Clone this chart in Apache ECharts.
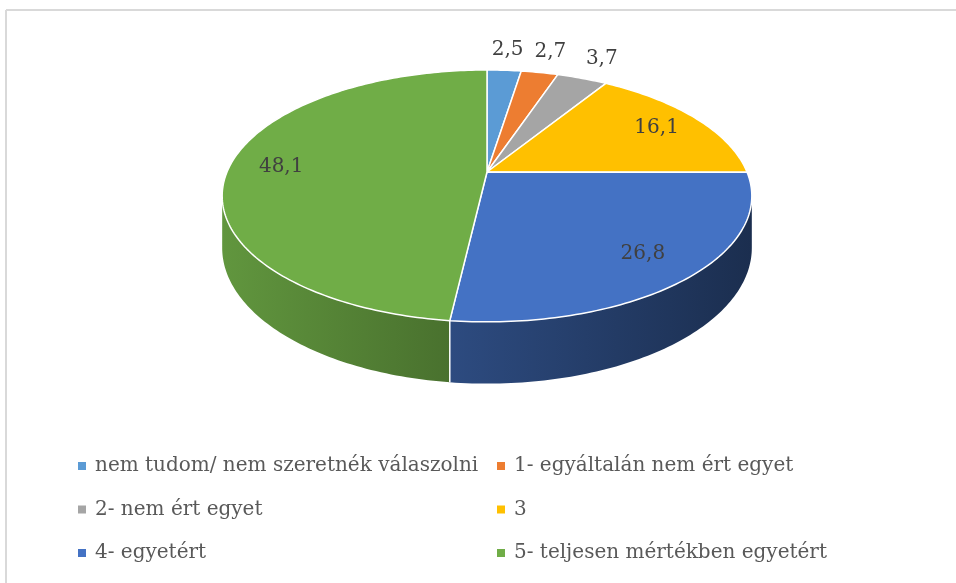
<!DOCTYPE html>
<html>
<head>
<meta charset="utf-8">
<script src="https://cdn.jsdelivr.net/npm/echarts@6/dist/echarts.min.js"></script>
<style>
  html, body { margin: 0; padding: 0; background: #fff; }
  #chart { width: 956px; height: 583px; }
</style>
</head>
<body>
<div id="chart"></div>
<script>
const categories = [
  "nem tudom/ nem szeretnék válaszolni",
  "1- egyáltalán nem ért egyet",
  "2- nem ért egyet",
  "3",
  "4- egyetért",
  "5- teljesen mértékben egyetért"
];
const values = [2.5, 2.7, 3.7, 16.1, 26.8, 48.1];
const colors = ["#5B9BD5", "#ED7D31", "#A5A5A5", "#FFC000", "#4472C4", "#70AD47"];

// 3d pie look (tilted disc with a bit of perspective, like excel)
const cx = 487, cy = 172;
const rx = 260, ry = 121.4;
const persp = 0.19;
const depth = 50;
const sideFrom = Math.acos(-persp) * 180 / Math.PI; // silhouette of the wall
const sideTo = 360 - sideFrom;

const total = values.reduce((a, b) => a + b, 0);
const starts = [];
let acc = 0;
values.forEach(v => { starts.push(acc / total * 360); acc += v; });

function proj(deg, r) {
  const t = deg * Math.PI / 180;
  const u = r * Math.sin(t), v = r * Math.cos(t);
  const w = 1 + persp * v;
  return [cx + rx * u / w, cy - ry * v / w, w];
}

// wall gets darker toward the right
function shade(hex, deg) {
  const f = Math.min(1, Math.max(0.3, 0.4 + 0.47 * (deg - 100) / 160));
  const n = parseInt(hex.slice(1), 16);
  const r = Math.round(((n >> 16) & 255) * f);
  const g = Math.round(((n >> 8) & 255) * f);
  const b = Math.round((n & 255) * f);
  return "rgb(" + r + "," + g + "," + b + ")";
}

function fmt(v) {
  return v.toFixed(1).replace(".", ",");
}

function renderSlice(idx) {
  return function (params, api) {
    const a0 = starts[idx];
    const a1 = a0 + api.value(0) / total * 360;
    const children = [];

    // top face
    const top = [[cx, cy]];
    const n = Math.max(2, Math.ceil(a1 - a0));
    for (let i = 0; i <= n; i++) {
      const p = proj(a0 + (a1 - a0) * i / n, 1);
      top.push([p[0], p[1]]);
    }
    children.push({
      type: "polygon",
      shape: { points: top },
      style: { fill: colors[idx], stroke: "#fff", lineWidth: 1.5, lineJoin: "round" },
      z2: 10
    });

    // side wall (front half only)
    const lo = Math.max(a0, sideFrom), hi = Math.min(a1, sideTo);
    if (hi > lo) {
      const upper = [], lower = [];
      const m = Math.max(2, Math.ceil(hi - lo));
      for (let i = 0; i <= m; i++) {
        const p = proj(lo + (hi - lo) * i / m, 1);
        upper.push([p[0], p[1]]);
        lower.unshift([p[0], p[1] + depth / p[2]]);
      }
      const pl = proj(hi, 1), pr = proj(lo, 1);
      children.push({
        type: "polygon",
        shape: { points: upper.concat(lower) },
        style: {
          fill: {
            type: "linear", global: true,
            x: pl[0], y: 0, x2: pr[0], y2: 0,
            colorStops: [
              { offset: 0, color: shade(colors[idx], hi) },
              { offset: 1, color: shade(colors[idx], lo) }
            ]
          }
        },
        z2: 1
      });
      if (a0 >= sideFrom && a0 <= sideTo) {
        const p = proj(a0, 1);
        children.push({
          type: "line",
          shape: { x1: p[0], y1: p[1], x2: p[0], y2: p[1] + depth / p[2] },
          style: { stroke: "#fff", lineWidth: 1.5 },
          z2: 5
        });
      }
    }

    // data label
    const lr = api.value(0) < 5 ? 1.25 : 0.8;
    const lp = proj((a0 + a1) / 2, lr);
    children.push({
      type: "text",
      x: lp[0], y: lp[1],
      style: {
        text: fmt(api.value(0)),
        fill: "#404040",
        font: "20px 'DejaVu Serif'",
        align: "center",
        verticalAlign: "middle"
      },
      z2: 20
    });

    return { type: "group", children: children };
  };
}

const chart = echarts.init(document.getElementById("chart"));

const legendBase = {
  orient: "vertical",
  top: 450,
  icon: "rect",
  itemWidth: 8,
  itemHeight: 8,
  itemGap: 21.5,
  selectedMode: false,
  textStyle: {
    fontFamily: "DejaVu Serif",
    fontSize: 20,
    color: "#595959",
    lineHeight: 22,
    padding: [0, 0, 0, 4]
  }
};

chart.setOption({
  animation: false,
  graphic: [
    {
      type: "line",
      shape: { x1: 6, y1: 10, x2: 960, y2: 10 },
      style: { stroke: "#D9D9D9", lineWidth: 2 },
      silent: true, z: -1
    },
    {
      type: "line",
      shape: { x1: 6, y1: 10, x2: 6, y2: 590 },
      style: { stroke: "#D9D9D9", lineWidth: 2 },
      silent: true, z: -1
    }
  ],
  legend: [
    Object.assign({}, legendBase, { left: 73, data: [categories[0], categories[2], categories[4]] }),
    Object.assign({}, legendBase, { left: 492, data: [categories[1], categories[3], categories[5]] })
  ],
  series: categories.map((name, i) => ({
    type: "custom",
    name: name,
    coordinateSystem: "none",
    renderItem: renderSlice(i),
    data: [[values[i]]],
    itemStyle: { color: colors[i] },
    silent: true
  }))
});
</script>
</body>
</html>
